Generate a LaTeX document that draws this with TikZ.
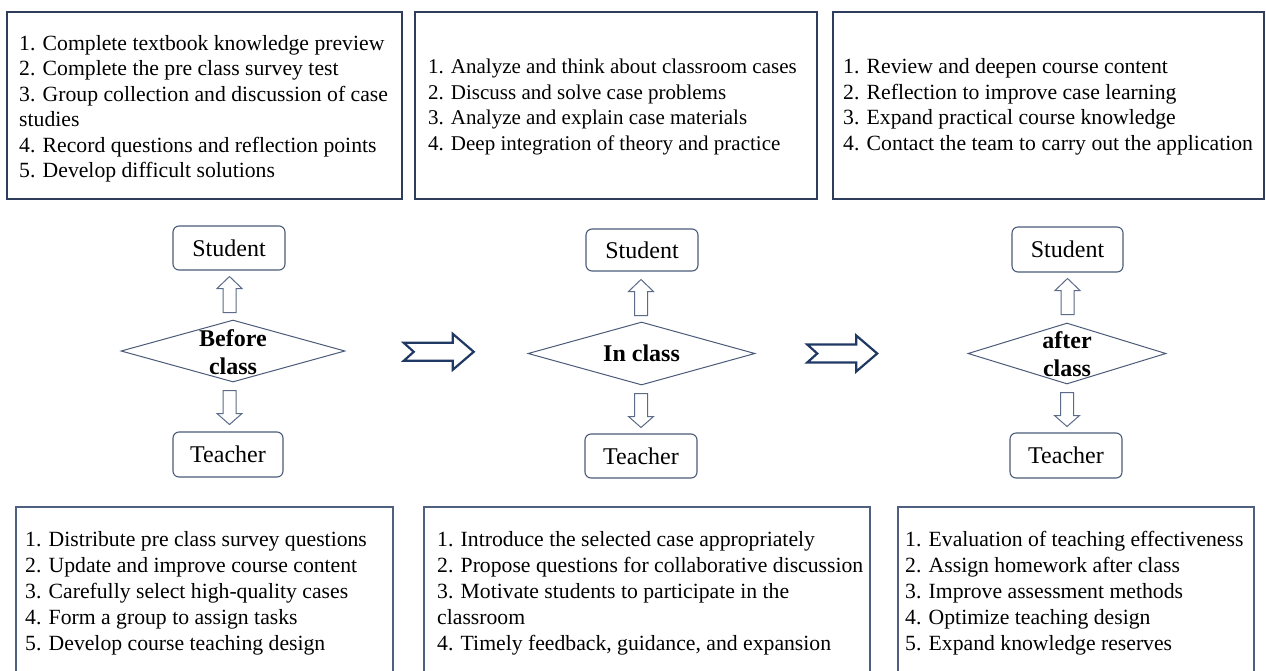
\documentclass[tikz,border=0pt]{standalone}
\usepackage{fontspec}
\setmainfont{Liberation Serif}
\usetikzlibrary{shapes.geometric,calc}
\definecolor{boxtop}{HTML}{2F3D5C}
\definecolor{boxbot}{HTML}{4F5F80}
\definecolor{shapeline}{HTML}{4A5A78}
\definecolor{hollowline}{HTML}{5B6B88}
\definecolor{bigline}{HTML}{1F3864}
\begin{document}
\begin{tikzpicture}[x=1pt,y=-1pt,
  panel/.style={draw=boxtop, line width=1.3pt, rectangle, inner sep=0pt},
  panelb/.style={draw=boxbot, line width=1.3pt, rectangle, inner sep=0pt},
  listtext/.style={anchor=west, align=left, inner sep=0pt, font=\fontsize{21.7}{25.5}\selectfont},
  listtextm/.style={anchor=west, align=left, inner sep=0pt, font=\fontsize{21}{25.5}\selectfont},
  listtextb/.style={anchor=west, align=left, inner sep=0pt, font=\fontsize{21.7}{26}\selectfont},
  rolebox/.style={draw=shapeline, line width=1.1pt, rounded corners=6pt, rectangle, inner sep=0pt, minimum width=112, minimum height=44, font=\fontsize{24}{28}\selectfont},
  phase/.style={diamond, draw=shapeline, line width=1pt, inner sep=0pt},
  phaselabel/.style={align=center, inner sep=0pt, font=\fontsize{24}{28}\selectfont\bfseries},
  harr/.style={draw=hollowline, line width=1pt, fill=white, line join=miter},
  bigarrline/.style={draw=bigline, line width=2.2pt, fill=white, line join=miter},
  uparr/.pic={\path[harr] (-6.5,0) -- (-6.5,-24) -- (-12.5,-24) -- (0,-36) -- (12.5,-24) -- (6.5,-24) -- (6.5,0) -- cycle;},
  downarr/.pic={\path[harr] (-6.5,0) -- (-6.5,23) -- (-12.5,23) -- (0,34) -- (12.5,23) -- (6.5,23) -- (6.5,0) -- cycle;},
  bigarr/.pic={\path[bigarrline] (0,-9) -- (49,-9) -- (49,-18) -- (70,0) -- (49,18) -- (49,9) -- (0,9) -- (10,0) -- cycle;}
]
\useasboundingbox (0,0) rectangle (1266,670);

% top boxes
\node[panel, minimum width=395, minimum height=187] (b1) at (204.5,105.5) {};
\node[listtext] (b1t) at (19,109) {1. Complete textbook knowledge preview\\2. Complete the pre class survey test\\3. Group collection and discussion of case\\studies\\4. Record questions and reflection points\\5. Develop difficult solutions};
\node[panel, minimum width=402, minimum height=187] (b2) at (616,105.5) {};
\node[listtextm] (b2t) at (428,107) {1. Analyze and think about classroom cases\\2. Discuss and solve case problems\\3. Analyze and explain case materials\\4. Deep integration of theory and practice};
\node[panel, minimum width=431, minimum height=187] (b3) at (1048.5,105.5) {};
\node[listtext] (b3t) at (843,107) {1. Review and deepen course content\\2. Reflection to improve case learning\\3. Expand practical course knowledge\\4. Contact the team to carry out the application};

% bottom boxes
\node[panelb, minimum width=377, minimum height=168] (c1) at (204.5,591) {};
\node[listtextb] (c1t) at (25,593) {1. Distribute pre class survey questions\\2. Update and improve course content\\3. Carefully select high-quality cases\\4. Form a group to assign tasks\\5. Develop course teaching design};
\node[panelb, minimum width=446, minimum height=168] (c2) at (647,591) {};
\node[listtextb] (c2t) at (437,593) {1. Introduce the selected case appropriately\\2. Propose questions for collaborative discussion\\3. Motivate students to participate in the\\classroom\\4. Timely feedback, guidance, and expansion};
\node[panelb, minimum width=356, minimum height=168] (c3) at (1076,591) {};
\node[listtextb] (c3t) at (905,593) {1. Evaluation of teaching effectiveness\\2. Assign homework after class\\3. Improve assessment methods\\4. Optimize teaching design\\5. Expand knowledge reserves};

% role boxes
\node[rolebox] (s1) at (229,248) {Student};
\node[rolebox, minimum width=110, minimum height=45] (t1) at (228,454.5) {Teacher};
\node[rolebox, minimum height=42] (s2) at (642,250) {Student};
\node[rolebox] (t2) at (641,456) {Teacher};
\node[rolebox, minimum width=111, minimum height=45] (s3) at (1067.5,249.5) {Student};
\node[rolebox, minimum height=45] (t3) at (1066,455.5) {Teacher};

% diamonds
\node[phase, minimum width=224, minimum height=62] (d1) at (233,351) {};
\node[phaselabel] (d1l) at (233,352) {Before\\class};
\node[phase, minimum width=227, minimum height=63] (d2) at (641.5,353.5) {};
\node[phaselabel] (d2l) at (641.5,353.5) {In class};
\node[phase, minimum width=198, minimum height=61] (d3) at (1067,353.5) {};
\node[phaselabel] (d3l) at (1067,354.5) {after\\class};

% hollow arrows
\pic at ($(d1.north -| s1.south)+(0.5,-7)$) {uparr};
\pic at ($(d1.south -| t1.north)+(1.5,8)$) {downarr};
\pic at ($(d2.north -| s2.south)+(-1,-6)$) {uparr};
\pic at ($(d2.south -| t2.north)+(0,8)$) {downarr};
\pic at ($(d3.north -| s3.south)+(0,-8)$) {uparr};
\pic at ($(d3.south -| t3.north)+(1,8)$) {downarr};

% big arrows between phases
\coordinate (g1) at ($(d1.east)!0.32!(d2.west)$);
\coordinate (g2) at ($(d2.east)!0.244!(d3.west)$);
\pic at (g1) {bigarr};
\pic at (g2) {bigarr};
\end{tikzpicture}
\end{document}
